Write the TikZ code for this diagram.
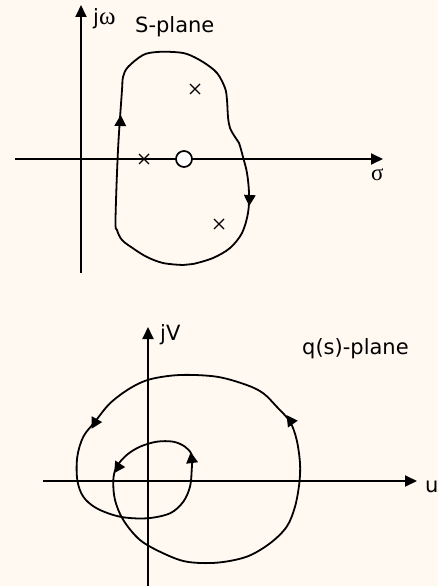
\documentclass[tikz,border=0pt]{standalone}
\usepackage{fontspec}
\setmainfont{DejaVu Sans}
\newfontfamily\grk{Liberation Serif}
\usetikzlibrary{arrows.meta}
\definecolor{bgcream}{HTML}{FFF9F2}
\newcommand\ahead[2]{\fill[shift={#1},rotate=#2] (6,0) -- (-5,6) -- (-5,-6) -- cycle;}
\newcommand\pcross[1]{\draw[crossline,shift={#1}] (-5,-5) -- (5,5) (-5,5) -- (5,-5);}
\begin{document}
\begin{tikzpicture}[x=1pt,y=-1pt,
  axis/.style={line width=1.9pt,-{Triangle[length=12pt,width=11pt]}},
  curve/.style={line width=1.8pt},
  crossline/.style={line width=1.1pt},
  lbl/.style={inner sep=0pt,anchor=base west,font=\fontsize{21}{24}\selectfont},
  glbl/.style={inner sep=0pt,anchor=base west,font=\fontsize{23}{24}\selectfont\grk}]
\fill[bgcream] (0,0) rectangle (438,586);
\useasboundingbox (0,0) rectangle (438,586);
% upper plane axes
\coordinate (sy0) at (81,273);
\coordinate (sy1) at (81,5);
\coordinate (sx0) at (15,159);
\coordinate (sx1) at (383,159);
\draw[axis] (sy0) -- (sy1);
\draw[axis] (sx0) -- (sx1);
\node[lbl] (jw) at (93,25) {j{\grk\fontsize{25}{24}\selectfont ω}};
\node[lbl] (splane) at (135,33) {S-plane};
\node[glbl] (sigma) at (371,180) {σ};
% contour
\draw[curve] plot[smooth cycle,tension=0.55] coordinates {
 (115.5,220) (118,150) (122,90) (123,77) (128,67) (143,55) (157,52) (173,52) (187,54) (203,62) (217,73) (225,88) (227,100) (228,117) (230,128) (235,137) (239,143) (243,157) (247,173) (249,193) (248,213) (242,233) (230,248) (213,258) (193,264) (183,265) (163,263) (147,257) (134,249) (122,240) (117,230)};
\ahead{(120.5,121)}{88}
\ahead{(249.5,200)}{-93}
\pcross{(195,89)}
\pcross{(144,159)}
\pcross{(219,224)}
\node[circle,draw,line width=1.7pt,fill=white,minimum size=16pt,inner sep=0pt] (zero) at (184,159) {};
% lower plane axes
\coordinate (qy0) at (148,586);
\coordinate (qy1) at (148,327);
\coordinate (qx0) at (43,481);
\coordinate (qx1) at (417,481);
\draw[axis] (qy0) -- (qy1);
\draw[axis] (qx0) -- (qx1);
\node[lbl] (jv) at (160,340) {jV};
\node[lbl] (qplane) at (302,354) {q(s)-plane};
\node[lbl] (u) at (425,492) {u};
\draw[curve] plot[smooth cycle,tension=0.55] coordinates {
 (191.7,470) (190,486.7) (183.3,501.7) (170,513.3) (146.7,518.3) (120,516.7) (96.7,508.3) (83.3,496.7) (77.3,480) (77.3,456.7) (83.3,436.7) (95,421.7) (110,403.3) (130,388.3) (150,379.3) (180,375) (216.7,376.7) (246.7,385) (263.3,393.3) (276.7,406.7) (290,421.7) (296.7,440) (300,463.3) (299.3,483.3) (295,506.7) (286.7,526.7) (270,543.3) (246.7,556.7) (216.7,562.7) (186.7,561.7) (163.3,553.3) (140,540) (123.3,520) (115,500) (113.3,480) (116.7,466.7) (126.7,455) (140,446.7) (156.7,441.7) (173.3,441.7) (185,446.7) (191.7,455)};
\ahead{(290,420)}{125}
\ahead{(94.5,423.5)}{-119}
\ahead{(191.5,458)}{97}
\ahead{(117.5,468)}{-123}
\end{tikzpicture}
\end{document}
